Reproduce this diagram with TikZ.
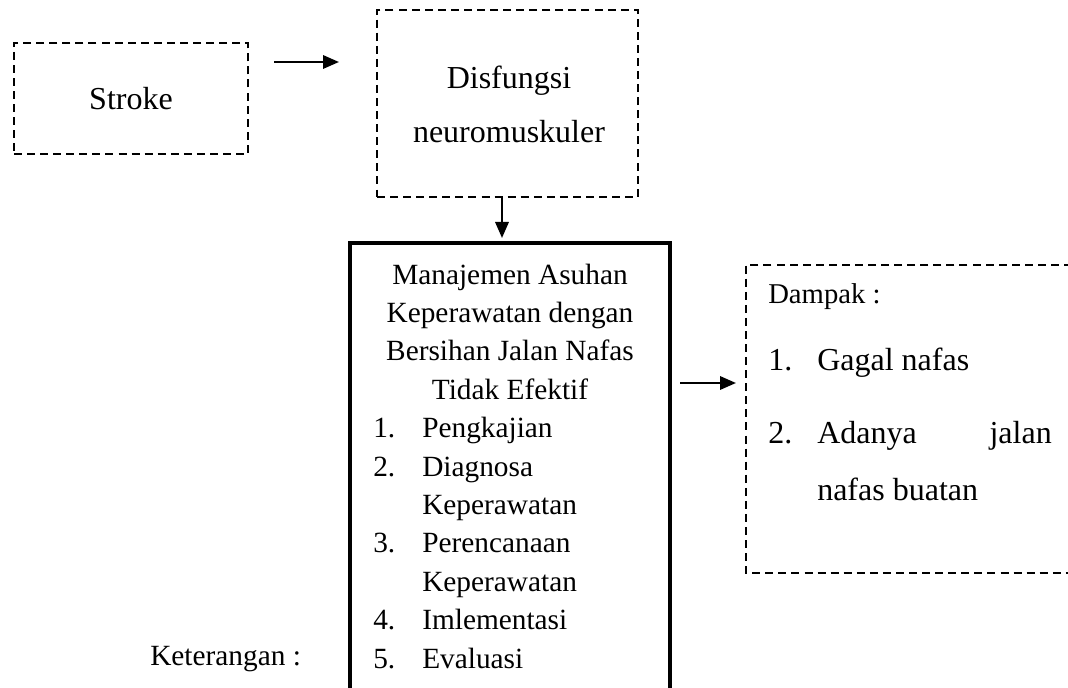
\documentclass[tikz,border=0pt]{standalone}
\usepackage{fontspec}
\setmainfont{Liberation Serif}
\usetikzlibrary{arrows.meta}
\begin{document}
\begin{tikzpicture}[x=0.75pt,y=-0.75pt,
 dbox/.style={draw,line width=1.6pt,dash pattern=on 6pt off 3.8pt},
 sbox/.style={draw,line width=2.4pt},
 arr/.style={line width=1.7pt,-{Triangle[length=12pt,width=10pt]}},
 big/.style={font=\fontsize{24}{28}\selectfont},
 mid/.style={font=\fontsize{22}{26}\selectfont},
 sml/.style={font=\fontsize{21.5}{25}\selectfont},
 txt/.style={inner sep=0pt,anchor=base west}]
\useasboundingbox (0,0) rectangle (1068,688);
% top boxes
\node[dbox,minimum width=175.5pt,minimum height=83.25pt,big] (stroke) at (131,98.5) {Stroke};
\node[dbox,minimum width=195.75pt,minimum height=140.25pt,inner sep=0pt] (dis) at (507.5,103.5) {};
\node[inner sep=0pt,anchor=base,big] (dis1) at (509,89) {Disfungsi};
\node[inner sep=0pt,anchor=base,big] (dis2) at (509,143) {neuromuskuler};
% arrows
\coordinate (a1s) at (274,62);
\coordinate (a1e) at (339,62);
\draw[arr] (a1s) -- (a1e);
\coordinate (a2e) at (502,238);
\draw[arr] (dis.south -| a2e) -- (a2e);
\coordinate (a3s) at (680,383);
\coordinate (a3e) at (736,383);
\draw[arr] (a3s) -- (a3e);
% main box (continues past bottom edge)
\coordinate (m1) at (350,692);
\coordinate (m2) at (350,243);
\coordinate (m3) at (670,243);
\coordinate (m4) at (670,692);
\draw[sbox] (m1) -- (m2) -- (m3) -- (m4);
\node[inner sep=0pt,anchor=base,mid] (t1) at (510,284) {Manajemen Asuhan};
\node[inner sep=0pt,anchor=base,mid] (t2) at (510,322.4) {Keperawatan dengan};
\node[inner sep=0pt,anchor=base,mid] (t3) at (510,360.8) {Bersihan Jalan Nafas};
\node[inner sep=0pt,anchor=base,mid] (t4) at (510,399.2) {Tidak Efektif};
\node[txt,mid] (n1) at (373,437.6) {1.};
\node[txt,mid] (l1) at (422,437.6) {Pengkajian};
\node[txt,mid] (n2) at (373,476) {2.};
\node[txt,mid] (l2) at (422,476) {Diagnosa};
\node[txt,mid] (l2b) at (422,514.4) {Keperawatan};
\node[txt,mid] (n3) at (373,552.8) {3.};
\node[txt,mid] (l3) at (422,552.8) {Perencanaan};
\node[txt,mid] (l3b) at (422,591.2) {Keperawatan};
\node[txt,mid] (n4) at (373,629.6) {4.};
\node[txt,mid] (l4) at (422,629.6) {Imlementasi};
\node[txt,mid] (n5) at (373,668) {5.};
\node[txt,mid] (l5) at (422,668) {Evaluasi};
% right box (open on the right edge)
\coordinate (r1) at (1072,265);
\coordinate (r2) at (746,265);
\coordinate (r3) at (746,573);
\coordinate (r4) at (1072,573);
\draw[dbox] (r1) -- (r2) -- (r3) -- (r4);
\node[txt,sml] (dmp) at (768,303) {Dampak :};
\node[txt,big] (d1n) at (768,370) {1.};
\node[txt,big] (d1) at (817,370) {Gagal nafas};
\node[txt,big] (d2n) at (768,443) {2.};
\node[txt,big] (d2) at (817,443) {Adanya};
\node[inner sep=0pt,anchor=base east,big] (d2j) at (1052,443) {jalan};
\node[txt,big] (d2b) at (817,500) {nafas buatan};
% legend
\node[txt,mid] (ket) at (150,665) {Keterangan :};
\end{tikzpicture}
\end{document}
